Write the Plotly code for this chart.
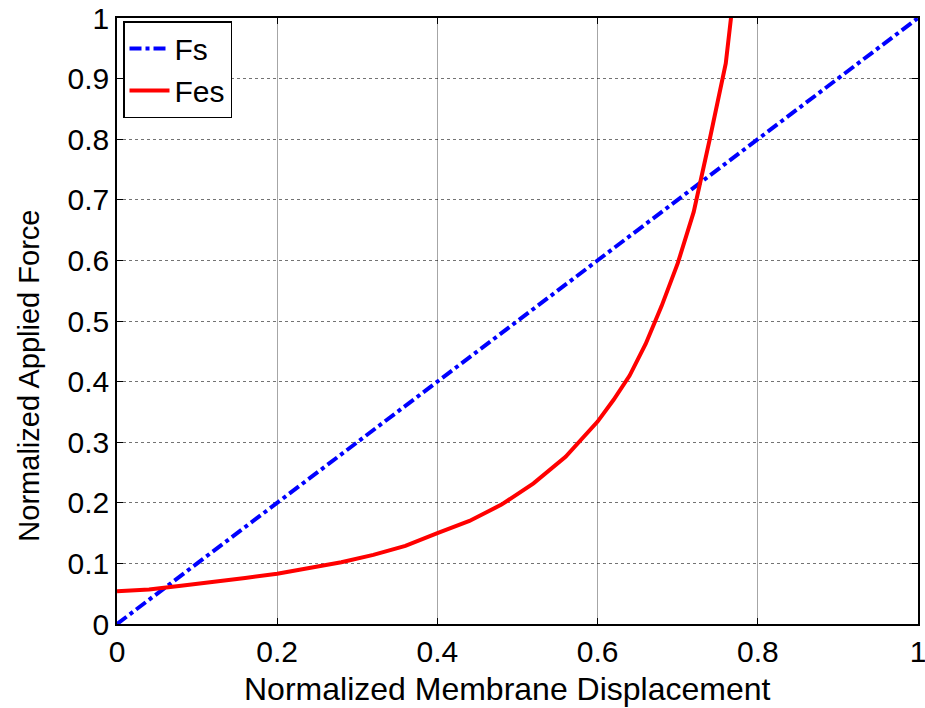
import plotly.graph_objects as go

fs_x = [0.0, 1.0]
fs_y = [0.0, 1.0]

fes_x = [0.0, 0.04, 0.08, 0.12, 0.16, 0.20, 0.24, 0.28, 0.32, 0.36, 0.40, 0.44,
         0.48, 0.52, 0.56, 0.60, 0.62, 0.64, 0.66, 0.68, 0.70, 0.72, 0.74, 0.76, 0.77]
fes_y = [0.054, 0.057, 0.063, 0.069, 0.076, 0.083, 0.092, 0.102, 0.114, 0.129, 0.150, 0.170,
         0.197, 0.232, 0.276, 0.334, 0.370, 0.410, 0.462, 0.525, 0.595, 0.680, 0.800, 0.925, 1.04]

tick_vals = [0, 0.1, 0.2, 0.3, 0.4, 0.5, 0.6, 0.7, 0.8, 0.9, 1]
tick_text = ["0", "0.1", "0.2", "0.3", "0.4", "0.5", "0.6", "0.7", "0.8", "0.9", "1"]
xtick_vals = [0, 0.2, 0.4, 0.6, 0.8, 1]
xtick_text = ["0", "0.2", "0.4", "0.6", "0.8", "1"]

x_title = "Normalized Membrane Displacement"
y_title = "Normalized Applied Force"

FAM = "Liberation Sans, Arial, sans-serif"
font = dict(family=FAM, size=30, color="black")

fig = go.Figure()
fig.add_trace(go.Scatter(x=fs_x, y=fs_y, mode="lines", name="Fs",
                         line=dict(color="#0000ff", width=4, dash="dashdot")))
fig.add_trace(go.Scatter(x=fes_x, y=fes_y, mode="lines", name="Fes",
                         line=dict(color="#ff0000", width=4)))

axis_common = dict(
    showline=True, linecolor="black", linewidth=1.5, mirror="ticks",
    ticks="inside", ticklen=6, tickcolor="black",
    showgrid=True, gridwidth=1,
    zeroline=False, tickfont=font, automargin=False, ticklabeloverflow="allow",
)

fig.update_xaxes(range=[0, 1], tickvals=xtick_vals, ticktext=xtick_text,
                 gridcolor="rgba(0,0,0,0.35)", griddash="solid",
                 **axis_common)
fig.update_yaxes(range=[0, 1], tickvals=tick_vals, ticktext=tick_text,
                 gridcolor="rgba(0,0,0,0.55)", griddash="dot",
                 **axis_common)

fig.add_annotation(text=x_title, xref="paper", yref="paper", x=0.487, y=-0.108,
                   xanchor="center", yanchor="middle", showarrow=False,
                   font=dict(family=FAM, size=32, color="black"))
fig.add_annotation(text=y_title, xref="paper", yref="paper", x=-0.111, y=0.41,
                   xanchor="center", yanchor="middle", showarrow=False, textangle=-90,
                   font=dict(family=FAM, size=29, color="black"))

fig.update_layout(
    width=925, height=708,
    margin=dict(l=117, r=7, t=18, b=84),
    paper_bgcolor="white", plot_bgcolor="white",
    font=font,
    showlegend=True,
    legend=dict(x=0.0075, y=0.995, xanchor="left", yanchor="top",
                bgcolor="white", bordercolor="black", borderwidth=1.5,
                font=dict(family=FAM, size=30, color="black"),
                tracegroupgap=0, itemwidth=40),
)

fig.write_html("out.html")
